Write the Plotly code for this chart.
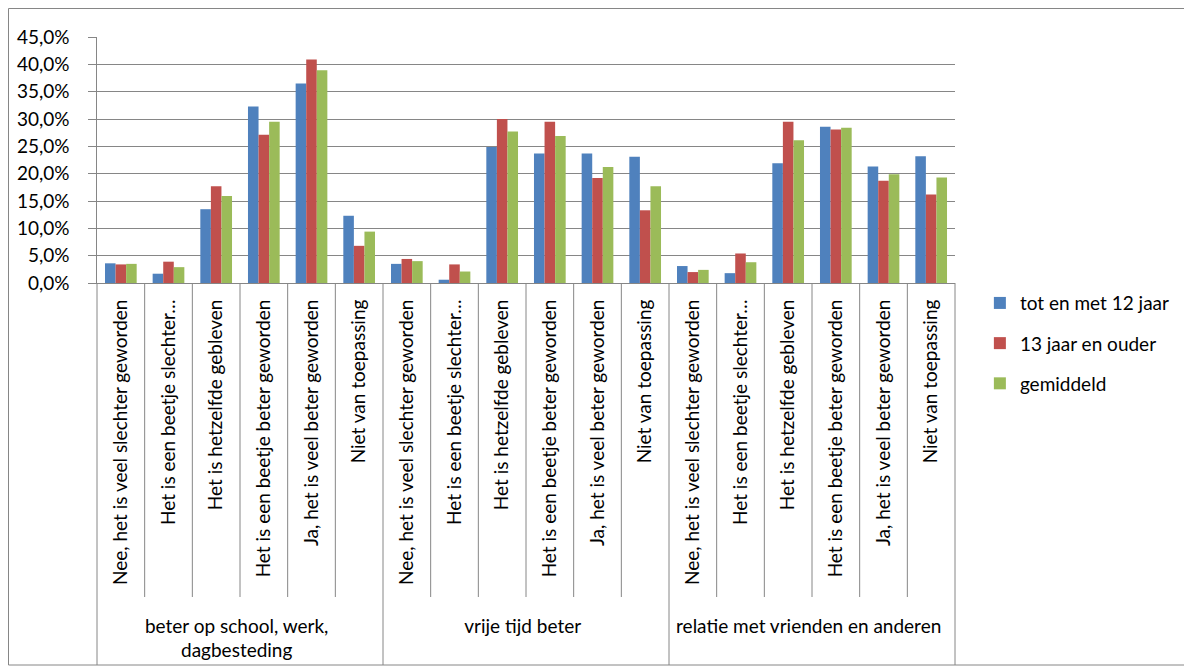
import plotly.graph_objects as go

groups = ["beter op school, werk,<br>dagbesteding", "vrije tijd beter", "relatie met vrienden en anderen"]
answers = [
    "\u00a0\u00a0\u00a0\u00a0Nee, het is veel slechter geworden",
    "Het is een beetje slechter…",
    "Het is hetzelfde gebleven",
    "Het is een beetje beter geworden",
    "Ja, het is veel beter geworden",
    "Niet van toepassing",
]
series_names = ["tot en met 12 jaar", "13 jaar en ouder", "gemiddeld"]

tot12 = [3.6, 1.7, 13.5, 32.3, 36.5, 12.3,
         3.5, 0.6, 24.9, 23.7, 23.7, 23.1,
         3.1, 1.8, 21.9, 28.6, 21.3, 23.2]
jaar13 = [3.4, 3.9, 17.7, 27.1, 40.9, 6.8,
          4.4, 3.4, 30.0, 29.5, 19.2, 13.3,
          2.0, 5.4, 29.5, 28.1, 18.7, 16.2]
gemiddeld = [3.5, 2.9, 15.9, 29.5, 38.9, 9.4,
             4.0, 2.1, 27.7, 26.9, 21.2, 17.7,
             2.4, 3.8, 26.1, 28.4, 19.9, 19.3]

colors = ["#4F81BD", "#C0504D", "#9BBB59"]
grid = "#868686"

outer = [g for g in groups for _ in answers]
inner = answers * len(groups)
n = len(inner)

fig = go.Figure()
for i, (name, vals, c) in enumerate(zip(series_names, [tot12, jaar13, gemiddeld], colors)):
    fig.add_trace(go.Bar(x=[outer, inner], y=vals, name=name, marker_color=c,
                         marker_line_width=0, legendgroup=f"g{i}"))

W, H = 1184, 662
L, T, PW, PH = 89, 29, 858, 246
font = "Lato, 'Open Sans', sans-serif"
fig.update_layout(
    width=W, height=H,
    margin=dict(l=L, r=W - L - PW, t=T, b=H - T - PH),
    paper_bgcolor="white", plot_bgcolor="white",
    barmode="group", bargap=0.335, bargroupgap=0,
    separators=",.",
    font=dict(family=font, size=19, color="black"),
    legend=dict(x=1.029, y=-0.0044, xanchor="left", yanchor="top",
                font=dict(size=19), tracegroupgap=12.5, traceorder="grouped",
                itemwidth=30),
    showlegend=True,
)
fig.update_yaxes(range=[0, 45], dtick=5, tickformat=".1f",
                 ticksuffix="%\u00a0\u00a0\u00a0",
                 showgrid=True, gridcolor=grid, gridwidth=1,
                 showline=True, linecolor=grid, linewidth=1,
                 ticks="outside", ticklen=8, tickcolor=grid,
                 tickfont=dict(size=19), automargin=False)
fig.update_xaxes(type="multicategory", tickangle=-90,
                 showline=True, linecolor=grid, linewidth=1,
                 ticks="", showdividers=False, ticklabelstandoff=8,
                 tickfont=dict(size=19), automargin=False)

# separators in the category label area
bottom = T + PH
inner_end = -(589 - bottom) / PH
group_end = -(657 - bottom) / PH
for k in range(n + 1):
    y0 = group_end if k % len(answers) == 0 else inner_end
    fig.add_shape(type="line", xref="paper", yref="paper", x0=k / n, x1=k / n,
                  y0=y0, y1=0, line=dict(color=grid, width=1))
# outer chart border
fig.add_shape(type="rect", xref="paper", yref="paper",
              x0=-(L - 0.5) / PW, x1=(1177 - L) / PW,
              y0=(bottom - 657) / PH, y1=(bottom - 0.5) / PH,
              line=dict(color=grid, width=1), layer="below")

fig.write_html("out.html")
